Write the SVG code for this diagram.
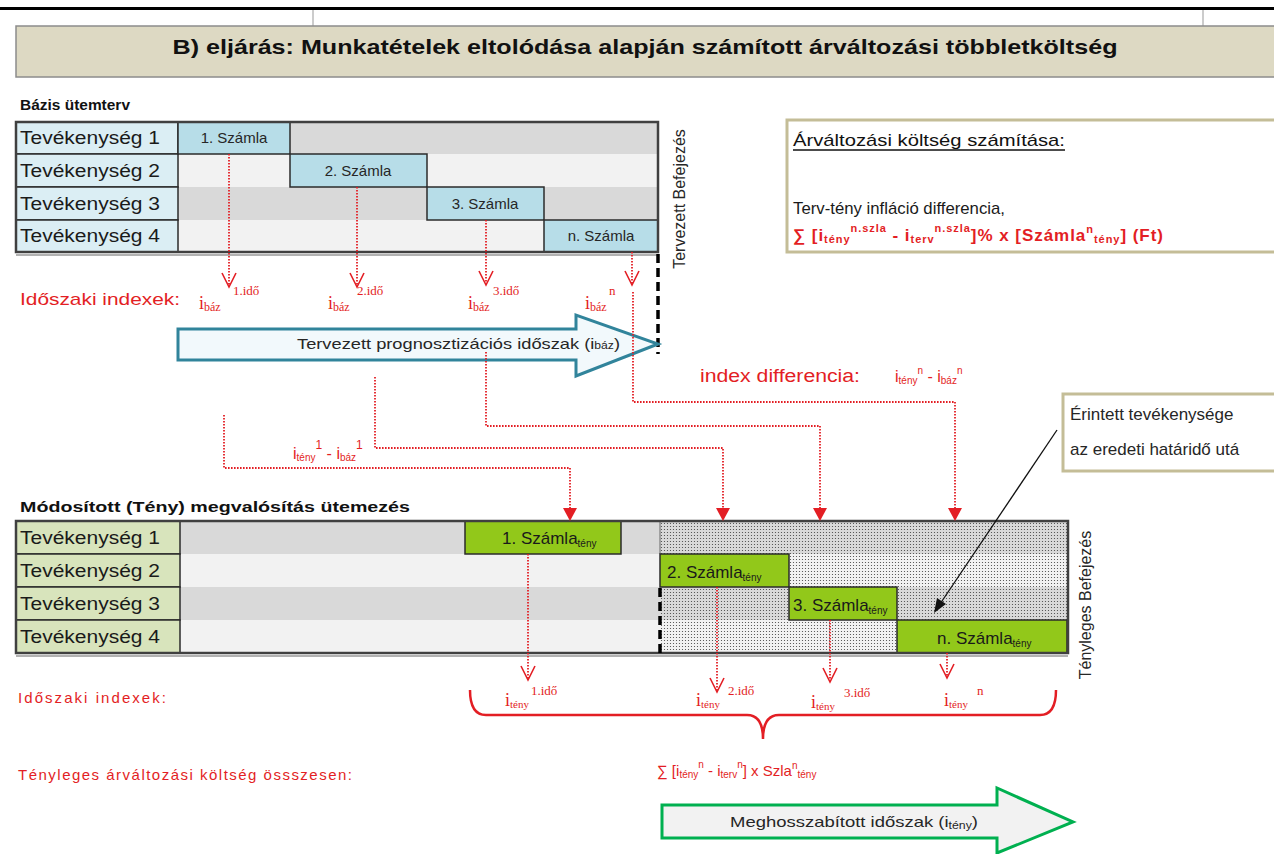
<svg xmlns="http://www.w3.org/2000/svg" width="1274" height="854" viewBox="0 0 1274 854">
<defs>
<style>
text{font-family:"Liberation Sans",Arial,sans-serif;}
.lbl{font-size:18px;fill:#1a1a1a;}
.sz{font-size:15px;fill:#262626;text-anchor:middle;}
.szg{font-size:17px;fill:#1a1a1a;}
.red{fill:#E31E24;}
.idx{font-family:"Liberation Serif","Times New Roman",serif;fill:#E31E24;font-size:18px;}
.dot{fill:none;stroke:#E31E24;stroke-width:1.8;stroke-dasharray:1.6 1.4;}
.vh{fill:none;stroke:#E31E24;stroke-width:1.6;}
.tri{fill:#E31E24;}
.cellb{fill:#DBEEF4;stroke:#2b2b2b;stroke-width:1.5;}
.cellg{fill:#D8E4BC;stroke:#2b2b2b;stroke-width:1.5;}
.bluebox{fill:#B7DDE8;stroke:#2b2b2b;stroke-width:1.5;}
.greenbox{fill:#92C81A;stroke:#2b2b2b;stroke-width:1.5;}
.frame{fill:none;stroke:#404040;stroke-width:2.5;}
.tanbox{fill:#fff;stroke:#C4BD97;stroke-width:3;}
</style>
<pattern id="dots" width="3" height="3" patternUnits="userSpaceOnUse">
<circle cx="1.5" cy="1.5" r="0.6" fill="#444"/>
</pattern>
</defs>
<rect width="1274" height="854" fill="#fff"/>

<g id="title">
<rect x="0" y="7" width="1274" height="3" fill="#000"/>
<line x1="313" y1="10" x2="313" y2="26" stroke="#999" stroke-width="1"/>
<line x1="1203" y1="10" x2="1203" y2="26" stroke="#999" stroke-width="1"/>
<rect x="16" y="26" width="1270" height="51" fill="#DDD9C3" stroke="#8c8c8c" stroke-width="1.5"/>
<text x="645" y="54" text-anchor="middle" font-size="21" font-weight="bold" fill="#111" textLength="945" lengthAdjust="spacingAndGlyphs">B) eljárás: Munkatételek eltolódása alapján számított árváltozási többletköltség</text>
</g>

<g id="base-table">
<text x="20" y="110" font-size="15" font-weight="bold" fill="#111" textLength="110" lengthAdjust="spacingAndGlyphs">Bázis ütemterv</text>
<rect x="178" y="122" width="480" height="32" fill="#D9D9D9"/>
<rect x="178" y="154" width="480" height="33" fill="#F2F2F2"/>
<rect x="178" y="187" width="480" height="33" fill="#D9D9D9"/>
<rect x="178" y="220" width="480" height="32" fill="#F2F2F2"/>
<rect class="cellb" x="16" y="122" width="162" height="32"/>
<rect class="cellb" x="16" y="154" width="162" height="33"/>
<rect class="cellb" x="16" y="187" width="162" height="33"/>
<rect class="cellb" x="16" y="220" width="162" height="32"/>
<text class="lbl" x="20" y="144" textLength="140" lengthAdjust="spacingAndGlyphs">Tevékenység 1</text>
<text class="lbl" x="20" y="177" textLength="140" lengthAdjust="spacingAndGlyphs">Tevékenység 2</text>
<text class="lbl" x="20" y="210" textLength="140" lengthAdjust="spacingAndGlyphs">Tevékenység 3</text>
<text class="lbl" x="20" y="242" textLength="140" lengthAdjust="spacingAndGlyphs">Tevékenység 4</text>
<rect class="bluebox" x="178" y="122" width="112" height="32"/>
<rect class="bluebox" x="290" y="154" width="137" height="33"/>
<rect class="bluebox" x="427" y="187" width="117" height="33"/>
<rect class="bluebox" x="544" y="220" width="114" height="32"/>
<text class="sz" x="234" y="143" font-size="16">1. Számla</text>
<text class="sz" x="358" y="176" font-size="16">2. Számla</text>
<text class="sz" x="485" y="209" font-size="16">3. Számla</text>
<text class="sz" x="601" y="241" font-size="16">n. Számla</text>
<rect class="frame" x="16" y="122" width="642" height="130"/>
<line x1="16" y1="255" x2="658" y2="255" stroke="#999" stroke-width="1.5"/>
<text x="0" y="0" font-size="16" fill="#262626" text-anchor="middle" transform="translate(685,199) rotate(-90)">Tervezett Befejezés</text>
<line x1="658" y1="254" x2="658" y2="354" stroke="#000" stroke-width="3.5" stroke-dasharray="9 5"/>
</g>

<g id="base-indexes">
<text class="red" x="20" y="305" font-size="17" textLength="160" lengthAdjust="spacingAndGlyphs">Időszaki indexek:</text>
<text class="idx" x="199" y="309">i<tspan font-size="12" dy="2">báz</tspan><tspan x="233" font-size="13" dy="-16">1.idő</tspan></text>
<text class="idx" x="328" y="309">i<tspan font-size="12" dy="2">báz</tspan><tspan x="357" font-size="13" dy="-16">2.idő</tspan></text>
<text class="idx" x="468" y="309">i<tspan font-size="12" dy="2">báz</tspan><tspan x="493" font-size="13" dy="-16">3.idő</tspan></text>
<text class="idx" x="585" y="309">i<tspan font-size="12" dy="2">báz</tspan><tspan x="609" font-size="13" dy="-16">n</tspan></text>
</g>

<g id="plan-arrow">
<path d="M178,329 L576,329 L576,315 L658,344 L576,376 L576,360 L178,360 Z" fill="#F2F9FC" stroke="#31849B" stroke-width="3" stroke-linejoin="miter"/>
<text x="297" y="349" font-size="15" fill="#262626" textLength="323" lengthAdjust="spacingAndGlyphs">Tervezett prognosztizációs időszak (i<tspan font-size="10">báz</tspan>)</text>
</g>

<g id="calc-box">
<rect class="tanbox" x="787" y="120" width="500" height="132"/>
<text x="793" y="146" font-size="17" fill="#111" textLength="272" lengthAdjust="spacingAndGlyphs">Árváltozási költség számítása:</text>
<line x1="793" y1="150" x2="1065" y2="150" stroke="#111" stroke-width="1.3"/>
<text x="793" y="214" font-size="17" fill="#1a1a1a" textLength="212" lengthAdjust="spacingAndGlyphs">Terv-tény infláció differencia,</text>
<text class="red" x="793" y="241" font-size="17" font-weight="bold" textLength="370" lengthAdjust="spacing">∑ [i<tspan font-size="11" dy="2">tény</tspan><tspan font-size="11" dy="-11">n.szla</tspan><tspan font-size="17" dy="9"> - i</tspan><tspan font-size="11" dy="2">terv</tspan><tspan font-size="11" dy="-11">n.szla</tspan><tspan font-size="17" dy="9">]% x  [Számla</tspan><tspan font-size="11" dy="-8">n</tspan><tspan font-size="11" dy="10">tény</tspan><tspan font-size="17" dy="-2">] (Ft)</tspan></text>
</g>

<g id="index-diff">
<text class="red" x="700" y="382" font-size="18" textLength="160" lengthAdjust="spacingAndGlyphs">index differencia:</text>
<text class="red" x="895" y="382" font-size="16">i<tspan font-size="10" dy="2">tény</tspan><tspan font-size="10" dy="-10">n</tspan><tspan font-size="16" dy="8"> - i</tspan><tspan font-size="10" dy="2">báz</tspan><tspan font-size="10" dy="-10">n</tspan></text>
<text class="red" x="293" y="459" font-size="16">i<tspan font-size="10" dy="2">tény</tspan><tspan font-size="12" dy="-12">1</tspan><tspan font-size="16" dy="10"> - i</tspan><tspan font-size="10" dy="2">báz</tspan><tspan font-size="12" dy="-12">1</tspan></text>
</g>

<g id="note-box">
<rect class="tanbox" x="1063" y="394" width="220" height="77"/>
<text x="1070" y="420" font-size="17" fill="#262626">Érintett tevékenysége</text>
<text x="1070" y="455" font-size="17" fill="#262626">az eredeti határidő utá</text>
</g>

<g id="mod-table">
<text x="20" y="512" font-size="15" font-weight="bold" fill="#111" textLength="390" lengthAdjust="spacingAndGlyphs">Módosított (Tény) megvalósítás ütemezés</text>
<rect x="180" y="521" width="888" height="33" fill="#D9D9D9"/>
<rect x="180" y="554" width="888" height="33" fill="#F2F2F2"/>
<rect x="180" y="587" width="888" height="33" fill="#D9D9D9"/>
<rect x="180" y="620" width="888" height="33" fill="#F2F2F2"/>
<rect x="660" y="521" width="408" height="33" fill="url(#dots)"/>
<rect x="789" y="554" width="279" height="33" fill="url(#dots)"/>
<rect x="660" y="587" width="129" height="33" fill="url(#dots)"/>
<rect x="897" y="587" width="171" height="33" fill="url(#dots)"/>
<rect x="660" y="620" width="237" height="33" fill="url(#dots)"/>
<line x1="660" y1="521" x2="660" y2="554" stroke="#8c8c8c" stroke-width="1.5"/>
<rect class="cellg" x="16" y="521" width="164" height="33"/>
<rect class="cellg" x="16" y="554" width="164" height="33"/>
<rect class="cellg" x="16" y="587" width="164" height="33"/>
<rect class="cellg" x="16" y="620" width="164" height="33"/>
<text class="lbl" x="20" y="544" textLength="140" lengthAdjust="spacingAndGlyphs">Tevékenység 1</text>
<text class="lbl" x="20" y="577" textLength="140" lengthAdjust="spacingAndGlyphs">Tevékenység 2</text>
<text class="lbl" x="20" y="610" textLength="140" lengthAdjust="spacingAndGlyphs">Tevékenység 3</text>
<text class="lbl" x="20" y="643" textLength="140" lengthAdjust="spacingAndGlyphs">Tevékenység 4</text>
<rect class="greenbox" x="465" y="521" width="156" height="33"/>
<rect class="greenbox" x="660" y="554" width="129" height="33"/>
<rect class="greenbox" x="789" y="587" width="108" height="33"/>
<rect class="greenbox" x="897" y="620" width="170" height="33"/>
<text class="szg" x="502" y="544">1. Számla<tspan font-size="10" dy="3">tény</tspan></text>
<text class="szg" x="667" y="578">2. Számla<tspan font-size="10" dy="3">tény</tspan></text>
<text class="szg" x="793" y="611">3. Számla<tspan font-size="10" dy="3">tény</tspan></text>
<text class="szg" x="937" y="644">n. Számla<tspan font-size="10" dy="3">tény</tspan></text>
<rect class="frame" x="16" y="521" width="1052" height="132"/>
<line x1="16" y1="656" x2="1068" y2="656" stroke="#999" stroke-width="1.5"/>
<line x1="660" y1="588" x2="660" y2="653" stroke="#000" stroke-width="3.5" stroke-dasharray="9 5"/>
<text x="0" y="0" font-size="16" fill="#262626" text-anchor="middle" transform="translate(1091,605) rotate(-90)">Tényleges Befejezés</text>
</g>

<g id="mod-indexes">
<text class="red" x="18" y="703" font-size="15" textLength="148" lengthAdjust="spacing">Időszaki indexek:</text>
<text class="idx" x="505" y="706">i<tspan font-size="11" dy="2">tény</tspan><tspan x="531" font-size="13" dy="-13">1.idő</tspan></text>
<text class="idx" x="696" y="706">i<tspan font-size="11" dy="2">tény</tspan><tspan x="728" font-size="13" dy="-13">2.idő</tspan></text>
<text class="idx" x="811" y="708">i<tspan font-size="11" dy="2">tény</tspan><tspan x="844" font-size="13" dy="-13">3.idő</tspan></text>
<text class="idx" x="944" y="706">i<tspan font-size="11" dy="2">tény</tspan><tspan x="977" font-size="13" dy="-13">n</tspan></text>
<path d="M470,690 Q470,715 486,715 L747,715 Q763,715 763,739 Q763,715 779,715 L1040,715 Q1056,715 1056,690" fill="none" stroke="#E31E24" stroke-width="2.5"/>
<text class="red" x="18" y="780" font-size="15" textLength="334" lengthAdjust="spacing">Tényleges árváltozási költség össszesen:</text>
<text class="red" x="657" y="776" font-size="15">∑ [i<tspan font-size="10" dy="2">tény</tspan><tspan font-size="10" dy="-10">n</tspan><tspan font-size="15" dy="8"> - i</tspan><tspan font-size="10" dy="2">terv</tspan><tspan font-size="10" dy="-10">n</tspan><tspan font-size="15" dy="8">] x Szla</tspan><tspan font-size="10" dy="-7">n</tspan><tspan font-size="10" dy="9">tény</tspan></text>
</g>

<g id="actual-arrow">
<path d="M662,805 L997,805 L997,788 L1073,822 L997,853 L997,838 L662,838 Z" fill="#F2F2F2" stroke="#00B050" stroke-width="3"/>
<text x="730" y="827" font-size="15" fill="#262626" textLength="248" lengthAdjust="spacingAndGlyphs">Meghosszabított időszak (i<tspan font-size="10" dy="2">tény</tspan><tspan dy="-2">)</tspan></text>
</g>

<g id="connectors">
<path class="dot" d="M229,154 V285"/>
<path class="vh" d="M222,273 L229,287 L236,273"/>
<path class="dot" d="M357,187 V285"/>
<path class="vh" d="M350,273 L357,287 L364,273"/>
<path class="dot" d="M486,220 V283"/>
<path class="vh" d="M479,271 L486,285 L493,271"/>
<path class="dot" d="M632,252 V283"/>
<path class="vh" d="M625,271 L632,285 L639,271"/>
<path class="dot" d="M633,292 V402 H955 V510"/>
<path class="tri" d="M948,508 L962,508 L955,521 Z"/>
<path class="dot" d="M486,352 V426 H820 V510"/>
<path class="tri" d="M813,508 L827,508 L820,521 Z"/>
<path class="dot" d="M375,377 V448 H723 V510"/>
<path class="tri" d="M716,508 L730,508 L723,521 Z"/>
<path class="dot" d="M224,415 V468 H570 V510"/>
<path class="tri" d="M563,508 L577,508 L570,521 Z"/>
<path class="dot" d="M528,554 V678"/>
<path class="vh" d="M521,666 L528,680 L535,666"/>
<path class="dot" d="M717,587 V690"/>
<path class="vh" d="M710,678 L717,692 L724,678"/>
<path class="dot" d="M830,620 V680"/>
<path class="vh" d="M823,668 L830,682 L837,668"/>
<path class="dot" d="M947,653 V676"/>
<path class="vh" d="M940,664 L947,678 L954,664"/>
<line x1="1057" y1="430" x2="940" y2="604" stroke="#111" stroke-width="1.3"/>
<path d="M934,613 L937,598 L946,604 Z" fill="#111"/>
</g>
</svg>
